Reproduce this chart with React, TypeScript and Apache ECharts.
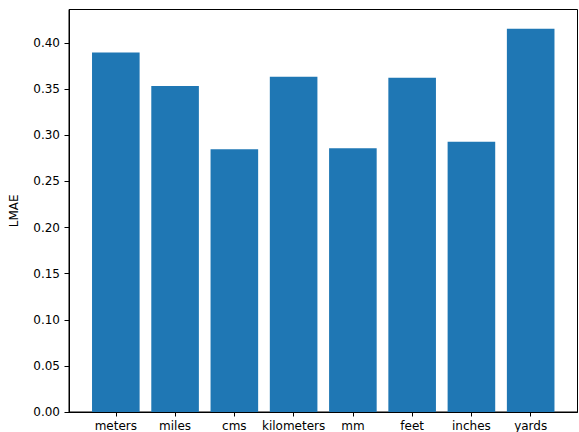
import React, { useEffect, useRef } from "react";
import * as echarts from "echarts";

const categories = ["meters", "miles", "cms", "kilometers", "mm", "feet", "inches", "yards"];
const lmaeValues = [0.390, 0.3535, 0.285, 0.3635, 0.286, 0.3625, 0.293, 0.4157];
const yTicks = [0, 0.05, 0.1, 0.15, 0.2, 0.25, 0.3, 0.35, 0.4];
const yMax = 0.4365;
const xMin = -0.79;
const xMax = 7.79;

export default function App() {
  const ref = useRef<HTMLDivElement>(null);
  useEffect(() => {
    if (!ref.current) return;
    const chart = echarts.init(ref.current, null, { renderer: "svg" });
    const xIdx = categories.map((_, i) => i);
    const font = "DejaVu Sans";
    chart.setOption({
      animation: false,
      backgroundColor: "#ffffff",
      grid: {
        left: 67.3,
        right: 1.5,
        top: 9.5,
        bottom: 19.7,
        show: true,
        borderColor: "#000000",
        borderWidth: 1,
        backgroundColor: "transparent",
      },
      xAxis: {
        type: "value",
        min: xMin,
        max: xMax,
        splitLine: { show: false },
        axisLine: { show: true, onZero: false, lineStyle: { color: "#000", width: 1 } },
        axisTick: {
          show: true,
          customValues: xIdx,
          length: 4.5,
          lineStyle: { color: "#000", width: 1 },
        },
        axisLabel: {
          customValues: xIdx,
          formatter: (v: number) => categories[Math.round(v)] ?? "",
          color: "#000",
          fontFamily: font,
          fontSize: 12,
          margin: 8,
        },
      },
      yAxis: {
        type: "value",
        min: 0,
        max: yMax,
        name: "LMAE",
        nameLocation: "middle",
        nameGap: 49,
        nameTextStyle: { color: "#000", fontFamily: font, fontSize: 12 },
        splitLine: { show: false },
        axisLine: { show: true, onZero: false, lineStyle: { color: "#000", width: 1 } },
        axisTick: {
          show: true,
          customValues: yTicks,
          length: 4.5,
          lineStyle: { color: "#000", width: 1 },
        },
        axisLabel: {
          customValues: yTicks,
          formatter: (v: number) => v.toFixed(2),
          color: "#000",
          fontFamily: font,
          fontSize: 12,
          margin: 9,
        },
      },
      series: [
        {
          type: "bar",
          data: lmaeValues.map((v, i) => [i, v]),
          barWidth: 47.6,
          itemStyle: { color: "#1f77b4" },
        },
      ],
    });
    return () => chart.dispose();
  }, []);
  return (
    <div
      ref={ref}
      style={{ position: "fixed", left: 0, top: 0, width: 579, height: 432, background: "#fff" }}
    />
  );
}
